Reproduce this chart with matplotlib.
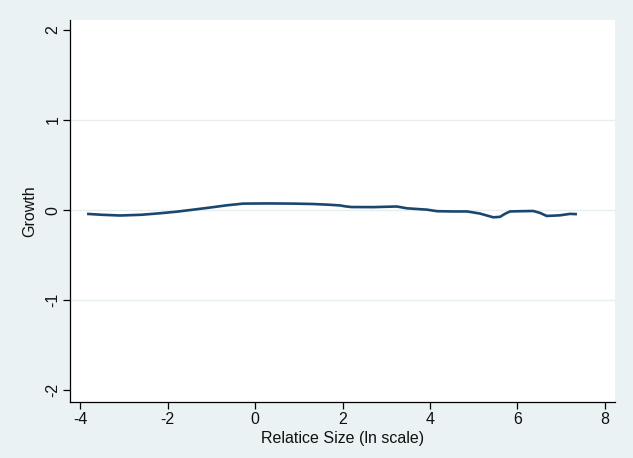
import matplotlib.pyplot as plt

# relative size (ln scale) vs growth
size = [-3.84, -3.5, -3.09, -2.6, -2.17, -1.8, -1.41, -1.0, -0.65, -0.27, 0.3, 0.87,
        1.3, 1.64, 1.94, 2.06, 2.2, 2.7, 3.24, 3.47, 3.93, 4.16, 4.5, 4.85, 5.14, 5.3,
        5.45, 5.6, 5.72, 5.83, 6.1, 6.36, 6.51, 6.67, 6.97, 7.2, 7.36]
growth = [-0.042, -0.052, -0.06, -0.052, -0.035, -0.018, 0.005, 0.03, 0.053, 0.072, 0.074, 0.072,
          0.068, 0.061, 0.052, 0.042, 0.034, 0.033, 0.04, 0.02, 0.005, -0.012, -0.015, -0.015, -0.038, -0.06,
          -0.08, -0.075, -0.04, -0.015, -0.012, -0.01, -0.03, -0.065, -0.058, -0.042, -0.045]

xticks = [-4, -2, 0, 2, 4, 6, 8]
yticks = [-2, -1, 0, 1, 2]

plt.rcParams['font.family'] = ['Liberation Sans', 'DejaVu Sans']

fig = plt.figure(figsize=(6.33, 4.58), dpi=100)
fig.patch.set_facecolor('#eaf2f3')
ax = fig.add_axes([70 / 633, 1 - 402 / 458, 545 / 633, 382 / 458])
ax.set_facecolor('white')

ax.plot(size, growth, color='#1a476f', linewidth=1.9, solid_capstyle='butt')

ax.set_xlim(-4.23, 8.23)
ax.set_ylim(-2.13, 2.11)
ax.set_xticks(xticks)
ax.set_yticks(yticks)
ax.set_xticklabels([str(t) for t in xticks], fontsize=11.5)
ax.set_yticklabels([str(t) for t in yticks], fontsize=11.5, rotation=90, va='center')

for t in [-1, 0, 1]:
    ax.axhline(t, color='#e6eeef', linewidth=1, zorder=0)

for s in ['top', 'right']:
    ax.spines[s].set_visible(False)
for s in ['left', 'bottom']:
    ax.spines[s].set_linewidth(0.9)
    ax.spines[s].set_color('black')
ax.tick_params(direction='out', length=5, width=0.9, colors='black', labelcolor='#111111', pad=2)

ax.set_xlabel('Relatice Size (ln scale)', fontsize=11.5, color='#111111', labelpad=3)
ax.set_ylabel('Growth', fontsize=11.5, color='#111111', labelpad=6)

fig.savefig('out.png', dpi=100, facecolor=fig.get_facecolor())
